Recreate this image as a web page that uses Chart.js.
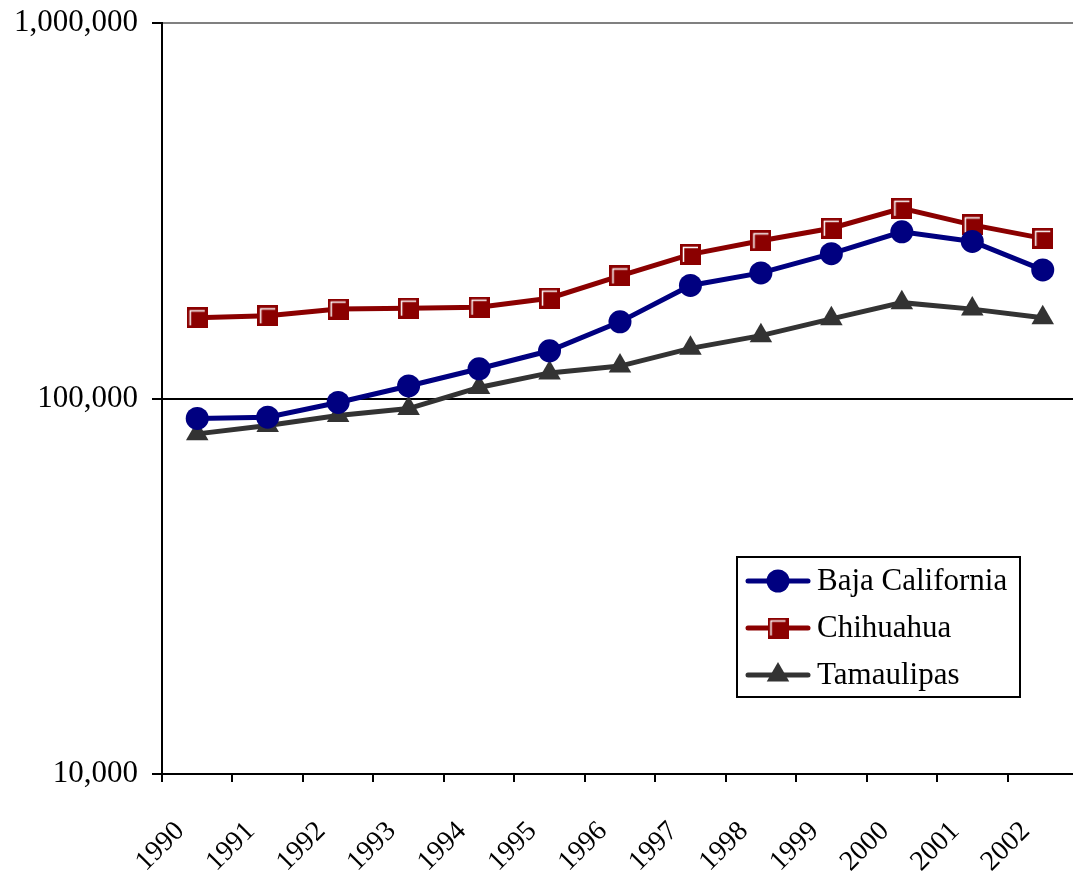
<!DOCTYPE html>
<html>
<head>
<meta charset="utf-8">
<script src="https://cdn.jsdelivr.net/npm/chart.js@4.4.1/dist/chart.umd.min.js"></script>
<style>
  html, body { margin: 0; padding: 0; background: #fff; overflow: hidden; }
  #wrap { position: relative; width: 1100px; height: 876px; }
</style>
</head>
<body>
<div id="wrap"><canvas id="chart"></canvas></div>
<script>
// values
const years = ['1990', '1991', '1992', '1993', '1994', '1995', '1996', '1997', '1998', '1999', '2000', '2001', '2002'];
const bajaCalifornia = [88500, 89200, 97600, 108000, 120000, 134000, 160000, 200000, 216000, 243000, 278000, 262000, 220000];
const chihuahua = [164000, 166000, 173000, 174000, 175000, 185000, 212000, 242000, 263000, 284000, 321000, 290000, 267000];
const tamaulipas = [80500, 84700, 90100, 94000, 107000, 117000, 122000, 136000, 147000, 163000, 180000, 173000, 164000];
const yTicks = [10000, 100000, 1000000];

const FONT = "'Liberation Serif', 'Times New Roman', serif";

// square marker with the white bevel on top/left
function makeSquare(color) {
  const c = document.createElement('canvas');
  c.width = 21; c.height = 21;
  const g = c.getContext('2d');
  g.fillStyle = color;
  g.fillRect(0, 0, 21, 21);
  g.strokeStyle = '#ffffff';
  g.lineWidth = 1.5;
  g.beginPath();
  g.moveTo(3.5, 18);
  g.lineTo(3.5, 3.5);
  g.lineTo(18, 3.5);
  g.stroke();
  return c;
}

const squareImg = makeSquare('#8b0000');

// legend box drawn inside the plot, like the original
const boxLegend = {
  id: 'boxLegend',
  afterDraw(chart) {
    const ctx = chart.ctx;
    const x0 = 737, y0 = 557, w = 283, h = 140;
    ctx.save();
    ctx.fillStyle = '#fff';
    ctx.fillRect(x0, y0, w, h);
    ctx.strokeStyle = '#000';
    ctx.lineWidth = 2;
    ctx.strokeRect(x0, y0, w, h);
    const rows = [581, 628, 675];
    chart.data.datasets.forEach((ds, i) => {
      const y = rows[i];
      ctx.strokeStyle = ds.borderColor;
      ctx.fillStyle = ds.pointBackgroundColor;
      ctx.lineWidth = 5;
      ctx.lineCap = 'round';
      ctx.beginPath();
      ctx.moveTo(748, y);
      ctx.lineTo(808, y);
      ctx.stroke();
      Chart.helpers.drawPoint(ctx, {
        pointStyle: ds.pointStyle,
        radius: ds.pointRadius,
        rotation: 0,
        borderWidth: 0
      }, 778, y);
      ctx.fillStyle = '#000';
      ctx.font = '31px ' + FONT;
      ctx.textBaseline = 'middle';
      ctx.textAlign = 'left';
      ctx.fillText(ds.label, 817, y + 1);
    });
    ctx.restore();
  }
};

function line(label, data, color, style, radius) {
  return {
    label: label,
    data: data,
    borderColor: color,
    backgroundColor: color,
    pointBackgroundColor: color,
    pointBorderColor: color,
    pointBorderWidth: 0,
    borderWidth: 5,
    pointStyle: style,
    pointRadius: radius,
    pointHoverRadius: radius,
    tension: 0,
    fill: false
  };
}

new Chart(document.getElementById('chart'), {
  type: 'line',
  data: {
    labels: years,
    datasets: [
      line('Baja California', bajaCalifornia, '#000080', 'circle', 11.5),
      line('Chihuahua', chihuahua, '#8b0000', squareImg, 10),
      line('Tamaulipas', tamaulipas, '#333333', 'triangle', 13)
    ]
  },
  options: {
    responsive: true,
    maintainAspectRatio: false,
    animation: false,
    layout: { padding: { top: 23, left: 0, right: 0, bottom: 0 } },
    plugins: {
      legend: { display: false },
      tooltip: { enabled: false }
    },
    scales: {
      x: {
        type: 'category',
        offset: true,
        afterFit: s => { s.height = 102; },
        grid: {
          offset: true,
          drawOnChartArea: false,
          drawTicks: true,
          tickLength: 8,
          color: '#000',
          lineWidth: 2
        },
        border: { display: true, color: '#000', width: 2 },
        ticks: {
          color: '#000',
          font: { family: FONT, size: 28 },
          minRotation: 45,
          maxRotation: 45,
          autoSkip: false,
          padding: 33,
          labelOffset: -17
        }
      },
      y: {
        type: 'logarithmic',
        min: 10000,
        max: 1000000,
        afterFit: s => { s.width = 162; s.paddingTop = 0; s.paddingBottom = 0; },
        afterBuildTicks: s => { s.ticks = yTicks.map(v => ({ value: v })); },
        grid: {
          color: c => c.tick && c.tick.value === 1000000 ? '#808080' : '#000',
          lineWidth: 2,
          tickLength: 10,
          tickColor: '#000'
        },
        border: { display: true, color: '#000', width: 2 },
        ticks: {
          color: '#000',
          font: { family: FONT, size: 31 },
          padding: 14,
          callback: v => Number(v).toLocaleString('en-US')
        }
      }
    }
  },
  plugins: [boxLegend]
});
</script>
</body>
</html>
